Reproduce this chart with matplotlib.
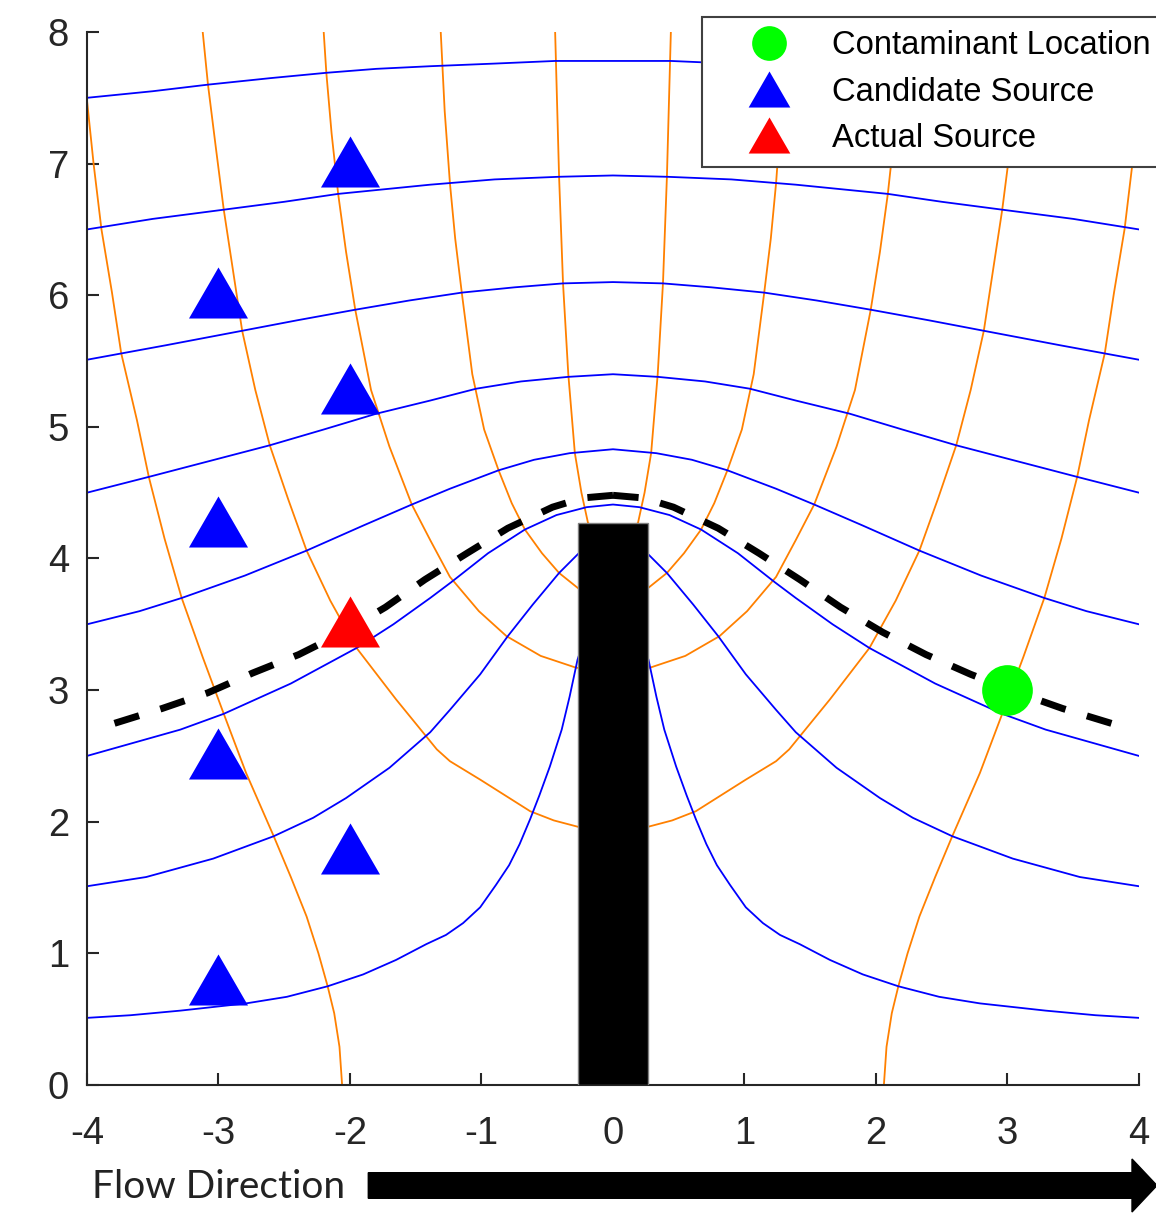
import matplotlib.pyplot as plt
from matplotlib.lines import Line2D
from matplotlib.patches import FancyArrow

plt.rcParams['font.family'] = ['Liberation Sans', 'DejaVu Sans']
plt.rcParams['axes.unicode_minus'] = False

# Streamlines (blue)
b05_x = [-4.0, -3.67, -3.29, -2.79, -2.48, -2.17, -1.9, -1.65, -1.42, -1.27, -1.14, -1.01, -0.89, -0.79,
         -0.71, -0.63, -0.56, -0.48, -0.39, -0.33, -0.27, -0.15,
         0.15, 0.27, 0.33, 0.39, 0.48, 0.56, 0.63, 0.71, 0.79, 0.89, 1.01, 1.14, 1.27, 1.42,
         1.65, 1.9, 2.17, 2.48, 2.79, 3.29, 3.67, 4.0]
b05_y = [0.51, 0.53, 0.565, 0.62, 0.67, 0.75, 0.84, 0.95, 1.07, 1.14, 1.23, 1.35, 1.52, 1.67,
         1.83, 2.02, 2.2, 2.42, 2.7, 2.95, 3.23, 3.6,
         3.6, 3.23, 2.95, 2.7, 2.42, 2.2, 2.02, 1.83, 1.67, 1.52, 1.35, 1.23, 1.14, 1.07,
         0.95, 0.84, 0.75, 0.67, 0.62, 0.565, 0.53, 0.51]
b15_x = [-4.0, -3.55, -3.04, -2.58, -2.28, -2.03, -1.7, -1.39, -1.24, -1.01, -0.8, -0.61, -0.41, -0.26, -0.1,
         0.1, 0.26, 0.41, 0.61, 0.8, 1.01, 1.24, 1.39, 1.7, 2.03, 2.28, 2.58, 3.04, 3.55, 4.0]
b15_y = [1.51, 1.58, 1.72, 1.89, 2.03, 2.18, 2.41, 2.68, 2.85, 3.12, 3.41, 3.65, 3.89, 4.04, 4.1,
         4.1, 4.04, 3.89, 3.65, 3.41, 3.12, 2.85, 2.68, 2.41, 2.18, 2.03, 1.89, 1.72, 1.58, 1.51]
b25_x = [-4.0, -3.29, -2.96, -2.45, -1.95, -1.67, -1.39, -1.23, -0.95, -0.67, -0.43, -0.2, 0.0,
         0.2, 0.43, 0.67, 0.95, 1.23, 1.39, 1.67, 1.95, 2.45, 2.96, 3.29, 4.0]
b25_y = [2.5, 2.7, 2.82, 3.05, 3.32, 3.5, 3.7, 3.82, 4.04, 4.22, 4.33, 4.39, 4.41,
         4.39, 4.33, 4.22, 4.04, 3.82, 3.7, 3.5, 3.32, 3.05, 2.82, 2.7, 2.5]
b35_x = [-4.0, -3.6, -3.28, -2.8, -2.33, -1.9, -1.53, -1.24, -0.87, -0.6, -0.33, 0.0,
         0.33, 0.6, 0.87, 1.24, 1.53, 1.9, 2.33, 2.8, 3.28, 3.6, 4.0]
b35_y = [3.5, 3.6, 3.7, 3.87, 4.06, 4.25, 4.41, 4.53, 4.67, 4.75, 4.8, 4.83,
         4.8, 4.75, 4.67, 4.53, 4.41, 4.25, 4.06, 3.87, 3.7, 3.6, 3.5]
b45_x = [-4.0, -3.53, -3.07, -2.61, -2.2, -1.8, -1.39, -1.04, -0.7, -0.34, 0.0,
         0.34, 0.7, 1.04, 1.39, 1.8, 2.2, 2.61, 3.07, 3.53, 4.0]
b45_y = [4.5, 4.62, 4.74, 4.86, 4.98, 5.1, 5.2, 5.29, 5.345, 5.38, 5.4,
         5.38, 5.345, 5.29, 5.2, 5.1, 4.98, 4.86, 4.74, 4.62, 4.5]
b55_x = [-4.0, -3.4, -2.82, -2.4, -1.96, -1.55, -1.15, -0.75, -0.38, 0.0,
         0.38, 0.75, 1.15, 1.55, 1.96, 2.4, 2.82, 3.4, 4.0]
b55_y = [5.51, 5.62, 5.73, 5.81, 5.89, 5.96, 6.02, 6.06, 6.09, 6.1,
         6.09, 6.06, 6.02, 5.96, 5.89, 5.81, 5.73, 5.62, 5.51]
b65_x = [-4.0, -3.5, -2.96, -2.5, -2.09, -1.39, -0.9, -0.41, 0.0, 0.41, 0.9, 1.39, 2.09, 2.5, 2.96, 3.5, 4.0]
b65_y = [6.5, 6.58, 6.65, 6.71, 6.77, 6.84, 6.88, 6.9, 6.91, 6.9, 6.88, 6.84, 6.77, 6.71, 6.65, 6.58, 6.5]
b75_x = [-4.0, -3.5, -3.08, -2.6, -2.18, -1.8, -1.39, -0.9, -0.44, 0.0,
         0.44, 0.9, 1.39, 1.8, 2.18, 2.6, 3.08, 3.5, 4.0]
b75_y = [7.5, 7.55, 7.6, 7.65, 7.69, 7.72, 7.74, 7.76, 7.78, 7.78,
         7.78, 7.76, 7.74, 7.72, 7.69, 7.65, 7.6, 7.55, 7.5]

# Equipotential lines (orange)
oA_left_x = [-4.0, -3.95, -3.89, -3.81, -3.74, -3.62, -3.53, -3.41, -3.28, -3.12, -2.96, -2.79, -2.58,
             -2.45, -2.33, -2.24, -2.17, -2.12, -2.08, -2.06]
oA_left_y = [7.48, 7.0, 6.5, 6.02, 5.56, 5.05, 4.62, 4.15, 3.7, 3.25, 2.82, 2.37, 1.89,
             1.58, 1.28, 1.0, 0.75, 0.545, 0.29, 0.0]
oA_right_x = [4.0, 3.95, 3.89, 3.81, 3.74, 3.62, 3.53, 3.41, 3.28, 3.12, 2.96, 2.79, 2.58,
              2.45, 2.33, 2.24, 2.17, 2.12, 2.08, 2.06]
oA_right_y = [7.48, 7.0, 6.5, 6.02, 5.56, 5.05, 4.62, 4.15, 3.7, 3.25, 2.82, 2.37, 1.89,
              1.58, 1.28, 1.0, 0.75, 0.545, 0.29, 0.0]
oB_x = [-3.12, -3.08, -3.02, -2.96, -2.89, -2.82, -2.72, -2.61, -2.47, -2.33, -2.15, -1.95, -1.65, -1.34,
        -1.24, -1.01, -0.82, -0.63, -0.45, -0.26, 0.0,
        0.26, 0.45, 0.63, 0.82, 1.01, 1.24, 1.34, 1.65, 1.95, 2.15, 2.33, 2.47, 2.61, 2.72,
        2.82, 2.89, 2.96, 3.02, 3.08, 3.12]
oB_y = [8.0, 7.6, 7.12, 6.65, 6.19, 5.73, 5.28, 4.86, 4.45, 4.06, 3.68, 3.32, 2.93, 2.55,
        2.46, 2.32, 2.2, 2.08, 2.01, 1.96, 1.95,
        1.96, 2.01, 2.08, 2.2, 2.32, 2.46, 2.55, 2.93, 3.32, 3.68, 4.06, 4.45, 4.86, 5.28,
        5.73, 6.19, 6.65, 7.12, 7.6, 8.0]
oC_x = [-2.2, -2.18, -2.14, -2.09, -2.03, -1.96, -1.84, -1.7, -1.53, -1.39, -1.24, -1.02, -0.81, -0.55, -0.28, 0.0,
        0.28, 0.55, 0.81, 1.02, 1.24, 1.39, 1.53, 1.7, 1.84, 1.96, 2.03, 2.09, 2.14, 2.18, 2.2]
oC_y = [8.0, 7.69, 7.23, 6.77, 6.33, 5.89, 5.28, 4.85, 4.41, 4.14, 3.86, 3.6, 3.41, 3.26, 3.17, 3.15,
        3.17, 3.26, 3.41, 3.6, 3.86, 4.14, 4.41, 4.85, 5.28, 5.89, 6.33, 6.77, 7.23, 7.69, 8.0]
oD_x = [-1.31, -1.28, -1.24, -1.2, -1.15, -1.07, -0.98, -0.87, -0.77, -0.67, -0.54, -0.41, -0.26, 0.0,
        0.26, 0.41, 0.54, 0.67, 0.77, 0.87, 0.98, 1.07, 1.15, 1.2, 1.24, 1.28, 1.31]
oD_y = [8.0, 7.4, 6.85, 6.43, 6.02, 5.4, 4.98, 4.67, 4.42, 4.22, 4.04, 3.89, 3.77, 3.75,
        3.77, 3.89, 4.04, 4.22, 4.42, 4.67, 4.98, 5.4, 6.02, 6.43, 6.85, 7.4, 8.0]
oE_x = [-0.44, -0.41, -0.38, -0.34, -0.29, -0.24, -0.19, 0.0, 0.19, 0.24, 0.29, 0.34, 0.38, 0.41, 0.44]
oE_y = [8.0, 6.9, 6.09, 5.4, 4.8, 4.5, 4.27, 4.1, 4.27, 4.5, 4.8, 5.4, 6.09, 6.9, 8.0]

# Dashed path (drawn as two halves starting at the top)
dash_left_x = [0.0, -0.23, -0.46, -0.8, -1.11, -1.43, -1.73, -2.05, -2.39, -2.74, -3.08, -3.43, -3.88]
dash_left_y = [4.48, 4.46, 4.39, 4.23, 4.04, 3.84, 3.63, 3.44, 3.27, 3.13, 2.98, 2.86, 2.72]
dash_right_x = [0.0, 0.23, 0.46, 0.8, 1.11, 1.42, 1.73, 2.05, 2.38, 2.72, 3.08, 3.42, 3.88]
dash_right_y = [4.48, 4.46, 4.39, 4.23, 4.04, 3.84, 3.63, 3.44, 3.27, 3.12, 2.98, 2.86, 2.72]

# Barrier
plate_x = 0.0
plate_width = 0.53
plate_height = 4.27

# Markers
cand_x = [-2, -3, -2, -3, -3, -2, -3]
cand_y = [7.0, 6.0, 5.27, 4.26, 2.5, 1.78, 0.78]
actual_x = [-2]
actual_y = [3.5]
cont_x = [3]
cont_y = [3]

labels = ['Contaminant Location', 'Candidate Source', 'Actual Source']

fig = plt.figure(figsize=(11.56, 12.15), dpi=100)
ax = fig.add_axes([0.07526, 0.107, 0.91003, 0.86667])

orange = '#ff8000'
for xs, ys in [(oA_left_x, oA_left_y), (oA_right_x, oA_right_y), (oB_x, oB_y),
               (oC_x, oC_y), (oD_x, oD_y), (oE_x, oE_y)]:
    ax.plot(xs, ys, color=orange, lw=1.3, zorder=2)

for xs, ys in [(b05_x, b05_y), (b15_x, b15_y), (b25_x, b25_y), (b35_x, b35_y),
               (b45_x, b45_y), (b55_x, b55_y), (b65_x, b65_y), (b75_x, b75_y)]:
    ax.plot(xs, ys, color='#0000ff', lw=1.3, zorder=2.1)

for xs, ys in [(dash_left_x, dash_left_y), (dash_right_x, dash_right_y)]:
    ax.plot(xs, ys, color='black', lw=5, dashes=(3.7, 3.2), zorder=3)

ax.bar(plate_x, plate_height, width=plate_width, color='black', edgecolor='#808080',
       linewidth=1, zorder=4)

# triangle with the same look as the original markers
tri = [(0, 0.95), (-1, -0.78), (1, -0.78)]
ax.plot(cand_x, cand_y, ls='none', marker=tri, ms=42.5, color='#0000ff', mec='none', zorder=5)
ax.plot(actual_x, actual_y, ls='none', marker=tri, ms=42.5, color='#ff0000', mec='none', zorder=5)
ax.plot(cont_x, cont_y, ls='none', marker='o', ms=36.5, color='#00ff00', mec='none', zorder=5)

ax.set_xlim(-4, 4)
ax.set_ylim(0, 8)
ax.set_xticks(range(-4, 5))
ax.set_yticks(range(0, 9))
for side in ['top', 'right']:
    ax.spines[side].set_visible(False)
for side in ['left', 'bottom']:
    ax.spines[side].set_color('#262626')
    ax.spines[side].set_linewidth(1.5)
ax.tick_params(direction='in', length=8.6, width=1.5, color='#262626',
               labelcolor='#262626', labelsize=27.5)
ax.tick_params(axis='x', pad=22)
ax.tick_params(axis='y', pad=13)

leg_tri = [(0, 0.866), (-1, -0.866), (1, -0.866)]
handles = [
    Line2D([], [], ls='none', marker='o', ms=25, color='#00ff00', mec='none'),
    Line2D([], [], ls='none', marker=leg_tri, ms=30, color='#0000ff', mec='none'),
    Line2D([], [], ls='none', marker=leg_tri, ms=30, color='#ff0000', mec='none'),
]
leg = ax.legend(handles, labels, loc='upper left', bbox_to_anchor=(702 / 1156, 1 - 17 / 1215),
                bbox_transform=fig.transFigure, fontsize=23.6, fancybox=False, framealpha=1,
                edgecolor='#404040', borderpad=0.41, handlelength=3.26, handletextpad=0.3,
                labelspacing=0.46, borderaxespad=0)
leg.get_frame().set_linewidth(1.5)
leg.set_zorder(10)

# Flow direction label and arrow below the axis
fig.text(91.7 / 1156, (1215 - 1198.3) / 1215, 'Flow Direction', fontsize=28,
         family=['Lato', 'DejaVu Sans'], color='#222222', ha='left', va='baseline')
arrow = FancyArrow(3.683, 0.295, 7.887, 0, width=0.256, head_width=0.53, head_length=0.25,
                   length_includes_head=True, color='black', transform=fig.dpi_scale_trans)
fig.add_artist(arrow)

fig.savefig('out.png', dpi=100)
